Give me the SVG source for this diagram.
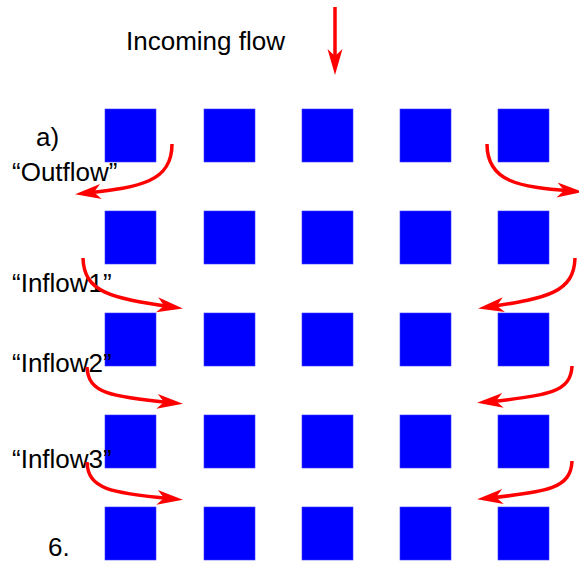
<svg xmlns="http://www.w3.org/2000/svg" width="579" height="562" viewBox="0 0 579 562">
<style>
.sq{fill:#0000ff;stroke:#3a3aff;stroke-width:0.6}
.lbl{font-family:"Liberation Sans",Arial,Helvetica,sans-serif;font-size:26px;fill:#000}
.arr{fill:none;stroke:#ff0000;stroke-width:3.5;marker-end:url(#head)}
</style>
<defs>
<marker id="head" markerUnits="userSpaceOnUse" viewBox="-15 -9 30 18" refX="0" refY="0" markerWidth="30" markerHeight="18" orient="auto" overflow="visible">
<path d="M-14,-7.5 L12,0 L-14,7.5 L-7,0 Z" fill="#ff0000"/>
</marker>
</defs>
<g id="grid">
<g id="r1c1"><rect class="sq" x="105" y="109" width="51" height="53"/></g>
<g id="r1c2"><rect class="sq" x="204" y="109" width="51" height="53"/></g>
<g id="r1c3"><rect class="sq" x="302" y="109" width="51" height="53"/></g>
<g id="r1c4"><rect class="sq" x="400" y="109" width="51" height="53"/></g>
<g id="r1c5"><rect class="sq" x="498" y="109" width="51" height="53"/></g>
<g id="r2c1"><rect class="sq" x="105" y="211" width="51" height="53"/></g>
<g id="r2c2"><rect class="sq" x="204" y="211" width="51" height="53"/></g>
<g id="r2c3"><rect class="sq" x="302" y="211" width="51" height="53"/></g>
<g id="r2c4"><rect class="sq" x="400" y="211" width="51" height="53"/></g>
<g id="r2c5"><rect class="sq" x="498" y="211" width="51" height="53"/></g>
<g id="r3c1"><rect class="sq" x="105" y="313" width="51" height="53"/></g>
<g id="r3c2"><rect class="sq" x="204" y="313" width="51" height="53"/></g>
<g id="r3c3"><rect class="sq" x="302" y="313" width="51" height="53"/></g>
<g id="r3c4"><rect class="sq" x="400" y="313" width="51" height="53"/></g>
<g id="r3c5"><rect class="sq" x="498" y="313" width="51" height="53"/></g>
<g id="r4c1"><rect class="sq" x="105" y="415" width="51" height="53"/></g>
<g id="r4c2"><rect class="sq" x="204" y="415" width="51" height="53"/></g>
<g id="r4c3"><rect class="sq" x="302" y="415" width="51" height="53"/></g>
<g id="r4c4"><rect class="sq" x="400" y="415" width="51" height="53"/></g>
<g id="r4c5"><rect class="sq" x="498" y="415" width="51" height="53"/></g>
<g id="r5c1"><rect class="sq" x="105" y="507" width="51" height="53"/></g>
<g id="r5c2"><rect class="sq" x="204" y="507" width="51" height="53"/></g>
<g id="r5c3"><rect class="sq" x="302" y="507" width="51" height="53"/></g>
<g id="r5c4"><rect class="sq" x="400" y="507" width="51" height="53"/></g>
<g id="r5c5"><rect class="sq" x="498" y="507" width="51" height="53"/></g>
</g>
<g id="labels">
<text class="lbl" x="126" y="50">Incoming flow</text>
<text class="lbl" x="36" y="146">a)</text>
<text class="lbl" x="12" y="181">“Outflow”</text>
<text class="lbl" x="12" y="292">“Inflow1”</text>
<text class="lbl" x="12" y="372">“Inflow2”</text>
<text class="lbl" x="12" y="468">“Inflow3”</text>
<text class="lbl" x="48" y="556">6.</text>
</g>
<g id="connectors">
<path class="arr" d="M335,7 L335,63"/>
<path class="arr" d="M172,144 C172,182 140,187 87,193"/>
<path class="arr" d="M487,144 C487,182 519,187 571,191"/>
<path class="arr" d="M83,258 C84,292 110,298 171,306.7"/>
<path class="arr" d="M575,258 C574,292 548,298 490,306.7"/>
<path class="arr" d="M87,367 C88,393 110,397 171,402.7"/>
<path class="arr" d="M572,366 C571,392 548,396 489,401.7"/>
<path class="arr" d="M87,462 C88,489 110,493 171,498.7"/>
<path class="arr" d="M572,461 C571,488 548,492 489,498"/>
</g>
</svg>
